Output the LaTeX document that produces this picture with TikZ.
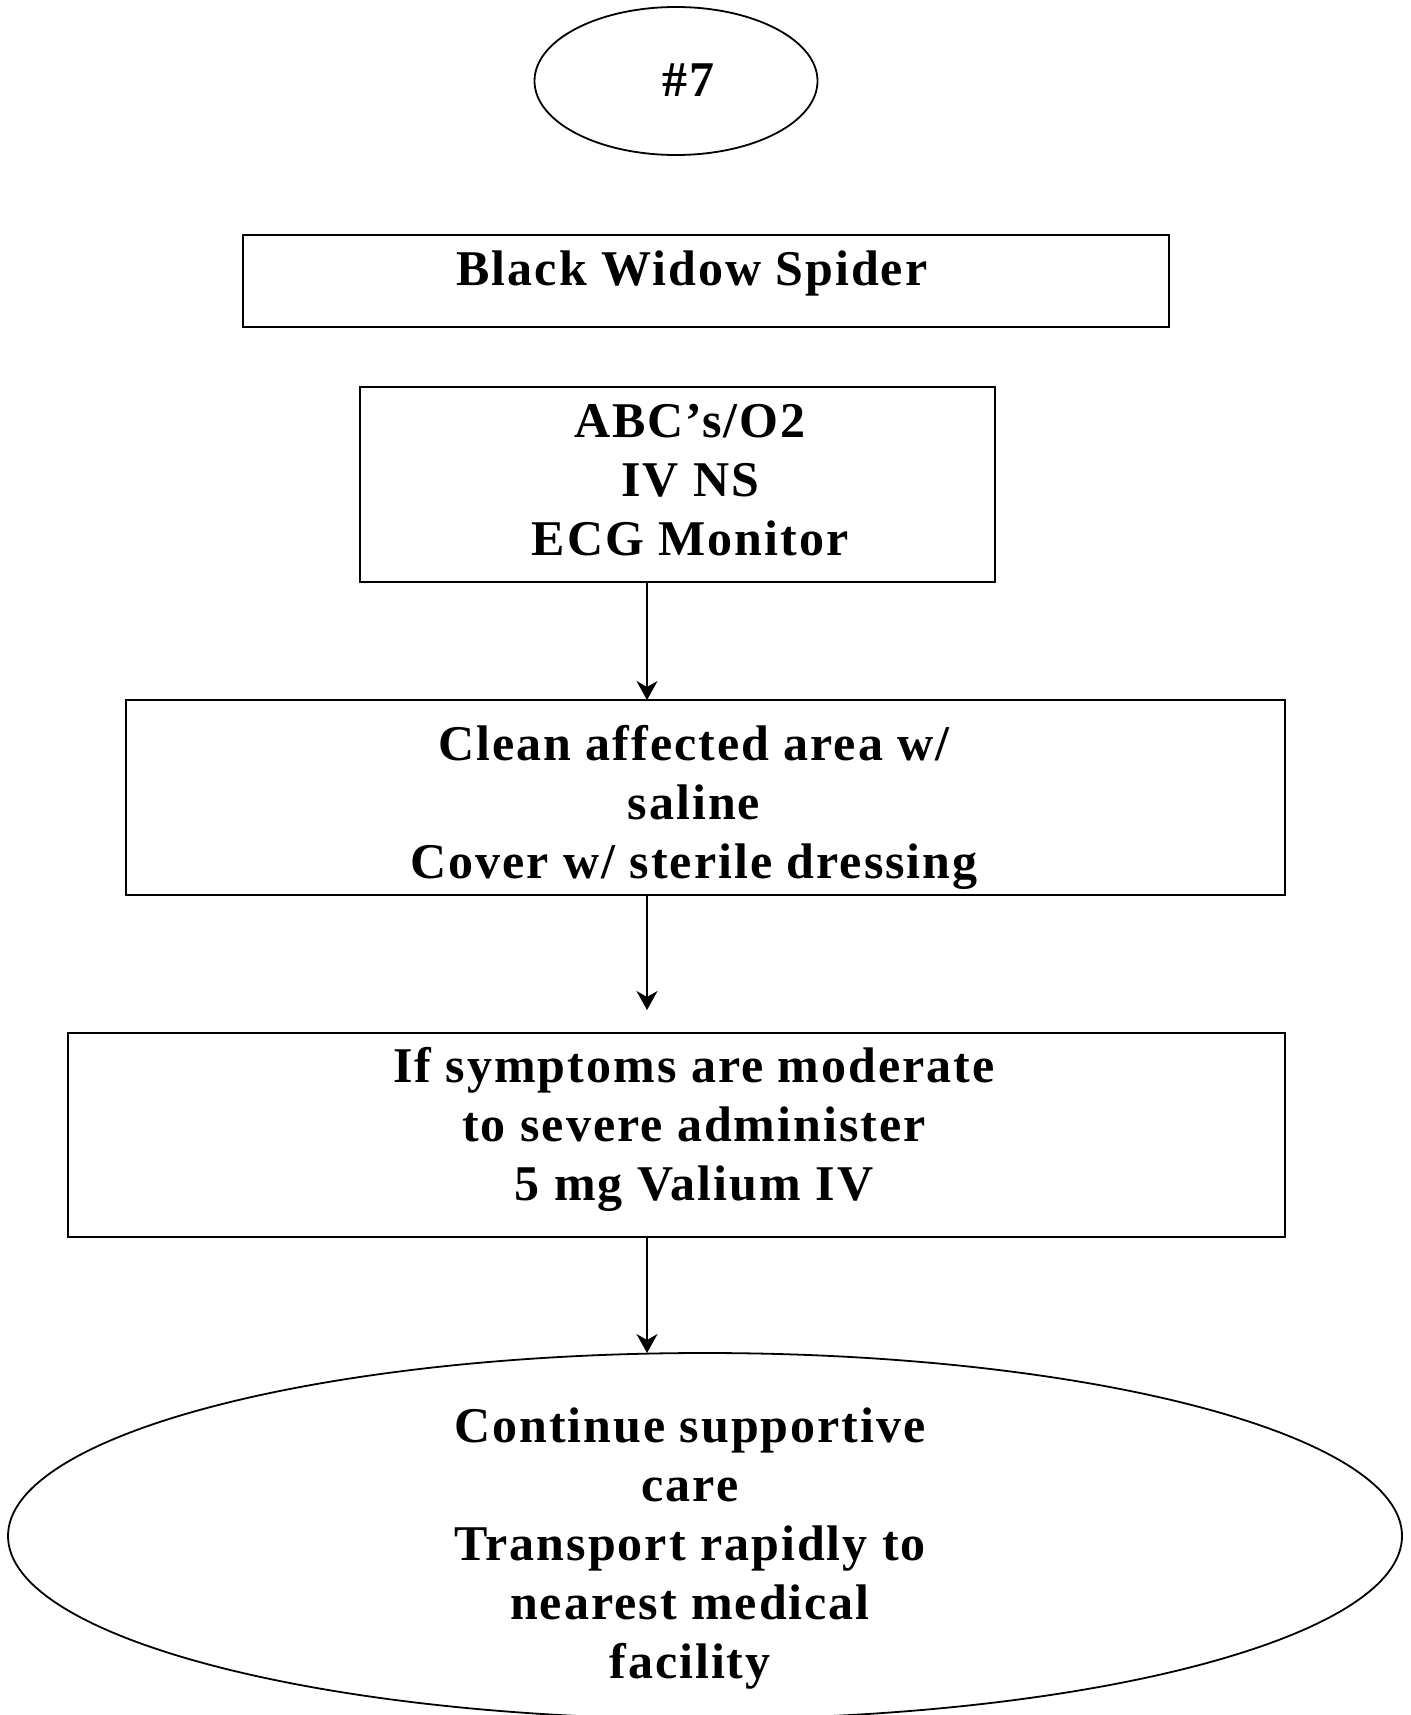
\documentclass[tikz,border=0pt]{standalone}
\usepackage{fontspec}
\newfontfamily\chartfont{Liberation Serif}[LetterSpace=4.0]
\usetikzlibrary{shapes.geometric,arrows.meta}
\begin{document}
\begin{tikzpicture}[x=1pt,y=-1pt,
  every node/.style={inner sep=0pt,outer sep=0pt},
  stepbox/.style={draw,line width=2.2pt,rectangle},
  oval/.style={draw,line width=1.8pt,ellipse},
  txt/.style={anchor=base,align=center,
    font=\chartfont\bfseries\fontsize{50}{59}\selectfont},
  flow/.style={line width=1.7pt,-{Stealth[length=19pt,width=21pt,inset=6pt]}}]
\useasboundingbox (0,0) rectangle (1410,1715);

% shapes
\node[oval,minimum width=283pt,minimum height=148pt] (start) at (676,81) {};
\node[stepbox,minimum width=926pt,minimum height=92pt] (bws) at (706,281) {};
\node[stepbox,minimum width=635pt,minimum height=195pt] (abc) at (677.5,484.5) {};
\node[stepbox,minimum width=1159pt,minimum height=195pt] (clean) at (705.5,797.5) {};
\node[stepbox,minimum width=1217pt,minimum height=204pt] (symp) at (676.5,1135) {};
\node[oval,minimum width=1394pt,minimum height=366pt] (final) at (705,1536) {};

% texts (anchored at the baseline of their last line)
\node[txt] (tstart) at (688,97) {\#7};
\node[txt] (tbws) at (692,285) {Black Widow Spider};
\node[txt] (tabc) at (690,555) {ABC’s/O2\\IV NS\\ECG Monitor};
\node[txt] (tclean) at (694,878) {Clean affected area w/\\saline\\Cover w/ sterile dressing};
\node[txt] (tsymp) at (694,1200) {If symptoms are moderate\\to severe administer\\5 mg Valium IV};
\node[txt] (tfinal) at (690,1678) {Continue supportive\\care\\Transport rapidly to\\nearest medical\\facility};

% connectors
\coordinate (ax) at (647,0);
\coordinate (a2end) at (647,1010);
\draw[flow] (ax |- abc.south) -- (ax |- clean.north);
\draw[flow] (ax |- clean.south) -- (a2end);
\draw[flow] (ax |- symp.south) -- (ax |- final.north);
\end{tikzpicture}
\end{document}
